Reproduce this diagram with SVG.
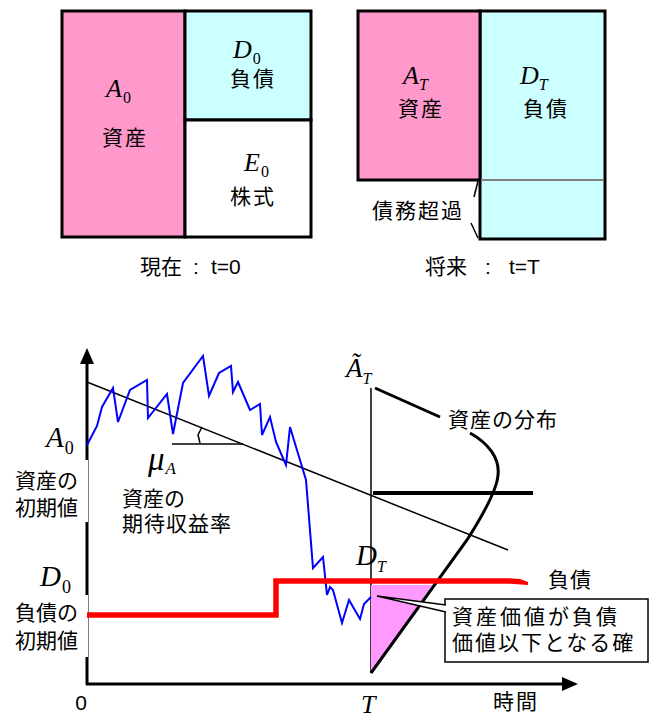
<svg xmlns="http://www.w3.org/2000/svg" width="651" height="718" viewBox="0 0 651 718">
<defs>
<style>
.jp{font-family:"Liberation Sans","Noto Sans CJK JP",sans-serif;font-size:21px;fill:#000;}
.m{font-family:"Liberation Serif","Times New Roman",serif;font-style:italic;fill:#000;}
.up{font-style:normal;}
.box{stroke:#000;stroke-width:3;}
.thin{stroke:#000;stroke-width:1.5;fill:none;}
</style>
</defs>
<rect width="651" height="718" fill="#fff"/>

<!-- Top-left balance sheet -->
<g id="bs-now">
<rect x="62" y="11" width="123" height="226" fill="#FF99CC" class="box"/>
<rect x="185" y="11" width="126" height="109" fill="#CCFFFF" class="box"/>
<rect x="185" y="120" width="126" height="117" fill="#FFFFFF" class="box"/>
<text class="m" x="106" y="97" font-size="26">A<tspan class="up" font-size="16" dy="6" dx="1">0</tspan></text>
<text class="jp" x="125" y="145" text-anchor="middle" font-size="22" letter-spacing="2">資産</text>
<text class="m" x="233" y="58" font-size="26">D<tspan class="up" font-size="16" dy="6" dx="1">0</tspan></text>
<text class="jp" x="253" y="86" text-anchor="middle" font-size="22" letter-spacing="2">負債</text>
<text class="m" x="244" y="171" font-size="26">E<tspan class="up" font-size="16" dy="6" dx="1">0</tspan></text>
<text class="jp" x="253" y="204" text-anchor="middle" font-size="22" letter-spacing="2">株式</text>
<text class="jp" x="140" y="274" font-size="20">現在<tspan x="193">:</tspan><tspan x="211">t=0</tspan></text>
</g>

<!-- Top-right balance sheet -->
<g id="bs-future">
<rect x="480" y="11" width="125" height="228" fill="#CCFFFF" class="box"/>
<rect x="358" y="11" width="122" height="169" fill="#FF99CC" class="box"/>
<line x1="481" y1="180" x2="604" y2="180" stroke="#808080" stroke-width="2"/>
<text class="m" x="403" y="84" font-size="26">A<tspan font-size="16" dy="6">T</tspan></text>
<text class="jp" x="421" y="116" text-anchor="middle" font-size="22" letter-spacing="2">資産</text>
<text class="m" x="520" y="84" font-size="26">D<tspan font-size="16" dy="6">T</tspan></text>
<text class="jp" x="546" y="116" text-anchor="middle" font-size="22" letter-spacing="2">負債</text>
<text class="jp" x="372" y="218" font-size="22" letter-spacing="2">債務超過</text>
<polyline points="478,181 474,197" class="thin"/>
<polyline points="471,223 478,238" class="thin"/>
<text class="jp" x="425" y="274" font-size="20">将来<tspan x="485">:</tspan><tspan x="509">t=T</tspan></text>
</g>

<!-- Chart -->
<g id="axes">
<line x1="87" y1="362" x2="87" y2="685" stroke="#000" stroke-width="3"/>
<polygon points="80,364 94,364 87,348" fill="#000"/>
<line x1="86" y1="684" x2="564" y2="684" stroke="#000" stroke-width="3"/>
<polygon points="562,677 562,691 578,684" fill="#000"/>
<text x="81" y="710" text-anchor="middle" font-size="21" font-family="Liberation Sans, sans-serif">0</text>
<text class="m" x="361" y="713" font-size="26">T</text>
<text class="jp" x="516" y="709" text-anchor="middle" letter-spacing="2">時間</text>
</g>

<g id="connectors">
<line x1="87" y1="382" x2="508" y2="550" class="thin"/>
<line x1="172" y1="444" x2="243" y2="444" class="thin"/>
<path d="M202,427 L198,435 L200,443" class="thin"/>
<line x1="371" y1="388" x2="371" y2="673" class="thin"/>
<line x1="373" y1="493" x2="533" y2="493" stroke="#000" stroke-width="4"/>
<path d="M371,585 L432,585 L371,673 Z" fill="#FF99FF"/>
<line x1="375" y1="388" x2="440" y2="417" stroke="#000" stroke-width="3"/>
<path d="M470,433 C488,443 500,458 498,475 C497,490 481,518 467,540 L371,673" fill="none" stroke="#000" stroke-width="3"/>
<polyline fill="none" stroke="#0000FF" stroke-width="2" points="87,445 97,426 102,407 113,388 118,422 130,390 147,380 148,418 167,394 173,434 183,383 203,356 209,396 219,373 231,366 233,392 238,382 250,410 260,404 262,435 270,417 276,442 286,465 290,427 303,470 306,480 313,568 323,557 327,595 330,587 333,590 342,623 349,600 360,619 364,604 371,597"/>
</g>

<g id="labels-left">
<rect x="10" y="460" width="78" height="62" fill="#fff"/>
<rect x="10" y="595" width="78" height="62" fill="#fff"/>
<text class="m" x="46" y="447" font-size="29">A<tspan class="up" font-size="18" dy="7" dx="1">0</tspan></text>
<text class="jp" x="78" y="488" text-anchor="end">資産の</text>
<text class="jp" x="78" y="515" text-anchor="end">初期値</text>
<text class="m" x="40" y="586" font-size="29">D<tspan class="up" font-size="18" dy="7" dx="1">0</tspan></text>
<text class="jp" x="78" y="620" text-anchor="end">負債の</text>
<text class="jp" x="78" y="648" text-anchor="end">初期値</text>
</g>

<g id="debt-line">
<polyline points="87,615 276,615 276,581 510,581" fill="none" stroke="#FF0000" stroke-width="5.5"/>
<polygon points="510,578.3 520,579 528,582 528,585 510,583.7" fill="#FF0000"/>
<text class="jp" x="548" y="587" letter-spacing="1">負債</text>
</g>

<g id="mu-label">
<text class="m" x="148" y="470" font-size="33">μ<tspan font-size="17" dy="4" dx="1">A</tspan></text>
<text class="jp" x="122" y="506">資産の</text>
<text class="jp" x="122" y="531" letter-spacing="1">期待収益率</text>
</g>

<g id="at-label">
<text class="m" x="346" y="377" font-size="27">Ã<tspan font-size="16" dy="7">T</tspan></text>
<text class="jp" x="448" y="427" letter-spacing="1">資産の分布</text>
</g>

<g id="dt-label">
<text class="m" x="356" y="565" font-size="29">D<tspan font-size="16" dy="7">T</tspan></text>
</g>

<g id="callout">
<rect x="445" y="599" width="203" height="63" fill="#fff" stroke="#000" stroke-width="1.5"/>
<path d="M446,605 L377,596 L446,612" fill="#fff" stroke="#000" stroke-width="1.5"/>
<text class="jp" x="452" y="624" font-size="22" letter-spacing="3">資産価値が負債</text>
<text class="jp" x="452" y="650" font-size="22" letter-spacing="2">価値以下となる確</text>
</g>
</svg>
